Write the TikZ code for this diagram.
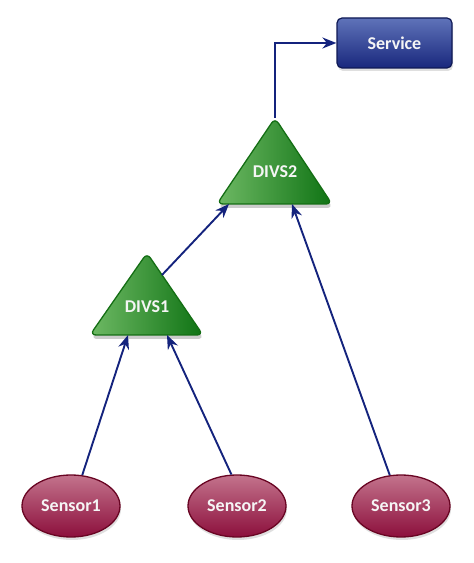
\documentclass[tikz,border=0pt]{standalone}
\usepackage{fontspec}
\setmainfont{Carlito}
\usetikzlibrary{arrows.meta,shapes.geometric,shadows}
\definecolor{arrowblue}{RGB}{20,35,125}
\definecolor{grnlight}{RGB}{110,185,100}
\definecolor{grndark}{RGB}{15,115,20}
\definecolor{grnedge}{RGB}{20,110,20}
\definecolor{martop}{RGB}{195,115,140}
\definecolor{marbot}{RGB}{140,15,60}
\definecolor{maredge}{RGB}{105,5,35}
\definecolor{bluetop}{RGB}{95,115,185}
\definecolor{bluebot}{RGB}{25,40,125}
\definecolor{blueedge}{RGB}{15,25,85}
\definecolor{lbltext}{RGB}{245,245,245}
\tikzset{
  lbl/.style={text=lbltext, font=\fontsize{18}{21}\selectfont\bfseries},
  sensor/.style={ellipse, draw=maredge, line width=1.3pt, top color=martop, bottom color=marbot,
    minimum width=98pt, minimum height=62pt, inner sep=0pt, lbl,
    drop shadow={shadow xshift=1pt, shadow yshift=-3pt, opacity=0.25}},
  svcbox/.style={rectangle, rounded corners=5pt, draw=blueedge, line width=1.2pt, top color=bluetop, bottom color=bluebot,
    minimum width=115pt, minimum height=50pt, inner sep=0pt, lbl,
    drop shadow={shadow xshift=1pt, shadow yshift=-3pt, opacity=0.25}},
  tri/.style={draw=grnedge, line width=1.3pt, left color=grnlight, right color=grndark, rounded corners=6pt},
  trishadow/.style={fill=black, opacity=0.2, rounded corners=6pt},
  conn/.style={draw=arrowblue, line width=1.9pt, -{Stealth[length=14pt,width=11pt]}},
}
\begin{document}
\begin{tikzpicture}[x=1pt,y=1pt]
\useasboundingbox (0,0) rectangle (474,563);
% triangles
\fill[trishadow] (276,441) -- (218,355) -- (333,355) -- cycle;
\path[tri] (275,445) -- (217,359) -- (332,359) -- cycle;
\fill[trishadow] (148,306) -- (91,224) -- (204,224) -- cycle;
\path[tri] (147,310) -- (90,228) -- (203,228) -- cycle;
\node[lbl] (divs2) at (275,391) {DIVS2};
\node[lbl] (divs1) at (147,256) {DIVS1};
% attachment points
\coordinate (d2top) at (275,445);
\coordinate (d2a) at (229,359);
\coordinate (d2b) at (292,359);
\coordinate (d1r) at (162,288);
\coordinate (d1a) at (128,228);
\coordinate (d1b) at (167,228);
% nodes
\node[svcbox] (svc) at (394.5,520) {Service};
\node[sensor] (s1) at (71,57) {Sensor1};
\node[sensor] (s2) at (237,57) {Sensor2};
\node[sensor] (s3) at (401,57) {Sensor3};
% connectors
\draw[conn] (s1.70) -- (d1a);
\draw[conn] (s2.100) -- (d1b);
\draw[conn] (s3.110) -- (d2b);
\draw[conn] (d1r) -- (d2a);
\draw[conn] (d2top) |- (svc.west);
\end{tikzpicture}
\end{document}
